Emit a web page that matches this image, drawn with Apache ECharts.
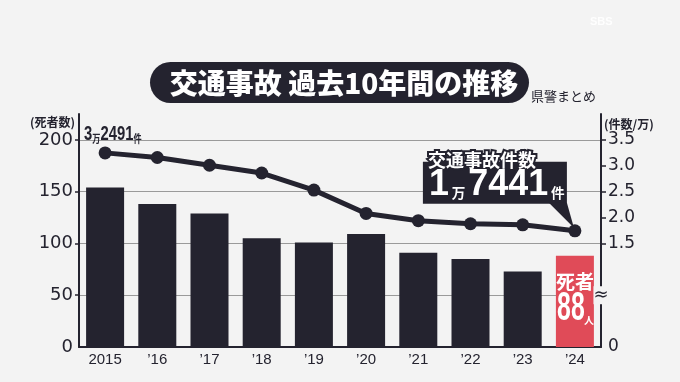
<!DOCTYPE html>
<html><head><meta charset="utf-8">
<script src="https://cdn.jsdelivr.net/npm/echarts@6/dist/echarts.min.js"></script>
<style>html,body{margin:0;padding:0;background:#f3f3f3}#c{width:680px;height:382px}</style>
</head><body><div id="c"></div>
<script>
const years = ['2015', '’16', '’17', '’18', '’19', '’20', '’21', '’22', '’23', '’24'];
const deaths = [154, 138, 129, 105, 101, 109, 91, 85, 73, 88];
const accidents = [3.2491, 3.16, 3.01, 2.86, 2.53, 2.08, 1.94, 1.88, 1.86, 1.7441]; // 万件
const leftLabels = [0, 50, 100, 150, 200];
const leftTicks = [50, 100, 150, 200];
const rightLabels = [-0.5, 1.5, 2.0, 2.5, 3.0, 3.5];
const rightTicks = [1.5, 2.0, 2.5, 3.0, 3.5];
const titleText = '交通事故 過去10年間の推移';
const sourceText = '県警まとめ';

const DARK = '#24232f';
const RED = '#e04b58';
const BG = '#f3f3f3';
const JP = '"Noto Sans CJK JP", sans-serif';
const NUM = '"Liberation Sans", sans-serif';

function fmtMan(v) {
  const m = Math.floor(v);
  const r = Math.round((v - m) * 10000);
  return [String(m), String(r)];
}

const chart = echarts.init(document.getElementById('c'), null, {renderer: 'canvas'});
const last = deaths.length - 1;

chart.setOption({
  backgroundColor: BG,
  animation: false,
  grid: {left: 79, right: 79, top: 114, bottom: 35, containLabel: false},
  xAxis: {
    type: 'category', data: years,
    axisLine: {show: true, lineStyle: {color: DARK, width: 2}},
    axisTick: {show: false},
    axisLabel: {color: DARK, fontSize: 15, fontFamily: '"Liberation Sans", sans-serif', margin: 5}
  },
  yAxis: [{
    type: 'value', min: 0, max: 225,
    axisLine: {show: true, lineStyle: {color: DARK, width: 2}},
    axisTick: {show: true, length: 4, customValues: leftTicks, lineStyle: {color: DARK, width: 1.5}},
    axisLabel: {customValues: leftLabels, color: DARK, fontSize: 18, fontFamily: '"DejaVu Sans", sans-serif', margin: 6},
    splitLine: {show: true, lineStyle: {color: '#9a9a9a', width: 1}}
  }, {
    type: 'value', min: -0.5, max: 4.0,
    axisLine: {show: true, lineStyle: {color: DARK, width: 2}},
    axisTick: {show: true, length: 5, inside: false, customValues: rightTicks, lineStyle: {color: DARK, width: 1.5}},
    axisLabel: {customValues: rightLabels, color: DARK, fontSize: 17, fontFamily: '"DejaVu Sans", sans-serif', margin: 7,
      formatter: v => v < 0 ? '0' : Number(v).toFixed(1)},
    splitLine: {show: false}
  }],
  series: [{
    type: 'bar', yAxisIndex: 0, barWidth: 38, z: 2,
    data: deaths.map((v, i) => i === last ? {value: v, itemStyle: {color: RED}} : v),
    itemStyle: {color: DARK}
  }, {
    type: 'line', yAxisIndex: 1, z: 5,
    data: accidents,
    symbol: 'circle', symbolSize: 13,
    lineStyle: {color: DARK, width: 5},
    itemStyle: {color: DARK}
  }]
});

const P0 = chart.convertToPixel({xAxisIndex: 0, yAxisIndex: 1}, [0, accidents[0]]);
const P = chart.convertToPixel({xAxisIndex: 0, yAxisIndex: 1}, [last, accidents[last]]);
const B = chart.convertToPixel({xAxisIndex: 0, yAxisIndex: 0}, [last, deaths[last]]);
const breakY = chart.convertToPixel({yAxisIndex: 1}, 0.5);
const firstTxt = fmtMan(accidents[0]);
const lastTxt = fmtMan(accidents[last]);
const px = P[0], py = P[1];

chart.setOption({
  graphic: [
    {type: 'rect', shape: {x: 150, y: 62, width: 379, height: 41, r: 20.5}, style: {fill: DARK}, z: 10},
    {type: 'text', x: 344, y: 83, z: 11, style: {text: titleText, fill: '#fff', fontSize: 28, fontWeight: 900, fontFamily: JP, align: 'center', verticalAlign: 'middle'}},
    {type: 'text', x: 531, y: 96, z: 11, style: {text: sourceText, fill: DARK, fontSize: 13, fontFamily: JP, align: 'left', verticalAlign: 'middle'}},
    {type: 'text', x: 75, y: 122, z: 11, style: {text: '(死者数)', fill: DARK, fontSize: 12, fontWeight: 'bold', fontFamily: JP, align: 'right', verticalAlign: 'middle'}},
    {type: 'text', x: 604, y: 124, z: 11, style: {text: '(件数/万)', fill: DARK, fontSize: 12, fontWeight: 'bold', fontFamily: JP, align: 'left', verticalAlign: 'middle'}},
    {type: 'text', x: 601, y: breakY, z: 11, style: {text: '≈', fill: DARK, fontSize: 18, fontFamily: '"DejaVu Sans", sans-serif', align: 'center', verticalAlign: 'middle', backgroundColor: BG}},
    {type: 'text', x: 590, y: 22, z: 11, style: {text: 'SBS', fill: 'rgba(255,255,255,0.9)', fontSize: 11, fontWeight: 'bold', fontFamily: NUM, align: 'left', verticalAlign: 'middle'}},
    // first value label
    {type: 'text', x: P0[0] - 21, y: P0[1] - 8, scaleX: 0.74, z: 21, style: {
      text: '{n|' + firstTxt[0] + '}{u|万}{n|' + firstTxt[1] + '}{u|件}',
      align: 'left', verticalAlign: 'bottom',
      rich: {
        n: {fill: DARK, fontSize: 20, fontWeight: 'bold', fontFamily: NUM, verticalAlign: 'bottom', lineHeight: 20},
        u: {fill: DARK, fontSize: 11, fontWeight: 'bold', fontFamily: JP, verticalAlign: 'bottom', lineHeight: 20, padding: [0, 0, 1, 0]}
      }
    }},
    // deaths label on last bar
    {type: 'text', x: B[0], y: B[1] + 26, z: 21, style: {text: '死者', fill: '#fff', fontSize: 19, fontWeight: 'bold', fontFamily: JP, align: 'center', verticalAlign: 'middle'}},
    {type: 'text', x: B[0] - 4, y: B[1] + 53, scaleX: 0.62, z: 21, style: {text: String(deaths[last]), fill: '#fff', fontSize: 40, fontWeight: 'bold', fontFamily: NUM, align: 'center', verticalAlign: 'middle'}},
    {type: 'text', x: B[0] + 14, y: B[1] + 64, z: 21, style: {text: '人', fill: '#fff', fontSize: 10, fontWeight: 'bold', fontFamily: JP, align: 'center', verticalAlign: 'middle'}},
    // callout
    {type: 'rect', shape: {x: px - 152, y: py - 69, width: 144, height: 42}, style: {fill: DARK}, z: 20},
    {type: 'polygon', shape: {points: [[px - 26, py - 28], [px - 8, py - 28], [px - 1, py - 3]]}, style: {fill: DARK}, z: 20},
    {type: 'text', x: px - 147, y: py - 71, z: 21, style: {text: '交通事故件数', fill: '#fff', stroke: DARK, lineWidth: 4, fontSize: 18, fontWeight: 'bold', fontFamily: JP, align: 'left', verticalAlign: 'middle'}},
    {type: 'text', x: px - 146, y: py - 28, z: 21, scaleX: 0.97, style: {
      text: '{n|' + lastTxt[0] + '}{u|万}{n|' + lastTxt[1] + '}{u|件}',
      align: 'left', verticalAlign: 'bottom',
      rich: {
        n: {fill: '#fff', fontSize: 37, fontWeight: 'bold', fontFamily: NUM, verticalAlign: 'bottom', lineHeight: 34},
        u: {fill: '#fff', fontSize: 14, fontWeight: 'bold', fontFamily: JP, verticalAlign: 'bottom', lineHeight: 34, padding: [0, 3, 3, 3]}
      }
    }}
  ]
});
</script></body></html>
